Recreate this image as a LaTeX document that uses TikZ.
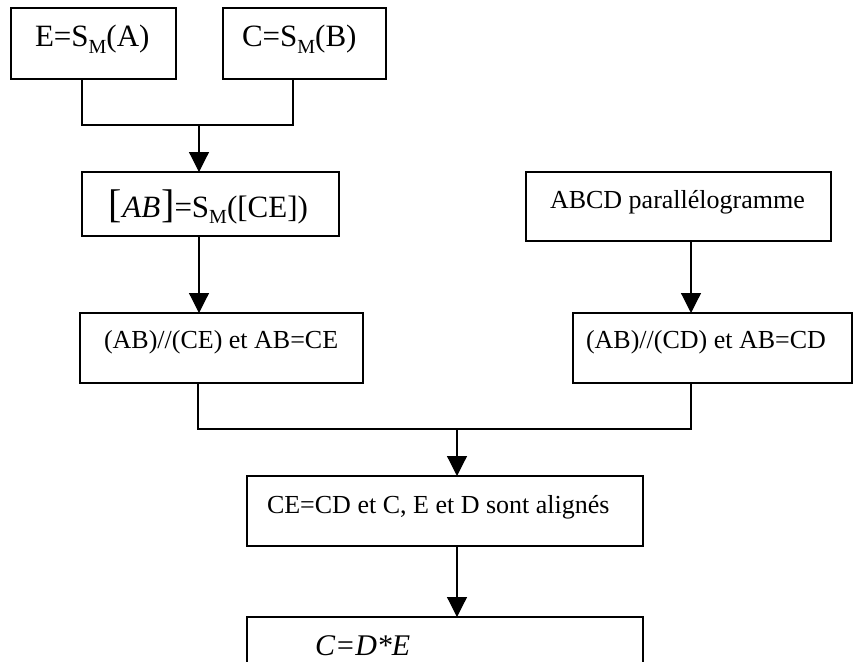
\documentclass[tikz,border=0pt]{standalone}
\usepackage{fontspec}
\setmainfont{Liberation Serif}
\usetikzlibrary{arrows.meta}
% lowered, smaller "M" used as a subscript
\newcommand{\subM}{\raisebox{-0.22em}{\fontsize{20}{20}\selectfont M}}
% tall square brackets around the italic segment name
\newcommand{\tallbr}[1]{{\fontsize{40}{40}\selectfont#1}}
\begin{document}
\begin{tikzpicture}[x=1pt,y=-1pt,
  line width=1.2pt,
  box/.style={draw, line width=1.2pt, inner sep=0pt, outer sep=0pt},
  txt/.style={anchor=base west, inner sep=0pt, outer sep=0pt},
  big/.style={font=\fontsize{31}{36}\selectfont},
  small/.style={font=\fontsize{26}{30}\selectfont},
  arr/.style={-{Triangle[width=20pt,length=20pt]}}]
\useasboundingbox (0,0) rectangle (853,661);
\clip (0,0) rectangle (853,661);

% frames
\node[box, minimum width=165pt, minimum height=71pt] (b1) at (93.5,43.5) {};
\node[box, minimum width=163pt, minimum height=71pt] (b2) at (304.5,43.5) {};
\node[box, minimum width=257pt, minimum height=64pt] (b3) at (210.5,204) {};
\node[box, minimum width=283pt, minimum height=70pt] (b4) at (221.5,348) {};
\node[box, minimum width=305pt, minimum height=69pt] (b5) at (678.5,206.5) {};
\node[box, minimum width=279pt, minimum height=70pt] (b6) at (712.5,348) {};
\node[box, minimum width=396pt, minimum height=70pt] (b7) at (445,511) {};
\node[box, minimum width=396pt, minimum height=70pt] (b8) at (445,652) {};

% texts
\node[txt, big] (t1) at (35,47) {E=S\subM(A)};
\node[txt, big] (t2) at (242,47) {C=S\subM(B)};
\node[txt, big] (t3) at (108,217)
  {\tallbr{[}\kern1pt\textit{AB}\kern1pt\tallbr{]}=S\subM([CE])};
\node[txt, small] (t5) at (550,208) {ABCD parallélogramme};
\node[txt, small] (t4) at (104,348) {(AB)//(CE) et AB=CE};
\node[txt, small] (t6) at (586,348) {(AB)//(CD) et AB=CD};
\node[txt, small] (t7) at (267,513) {CE=CD et C, E et D sont alignés};
\node[txt, font=\fontsize{30}{34}\selectfont\itshape] (t8) at (315,655) {C=D*E};

% junction points
\coordinate (m1) at (199,125);
\coordinate (m2) at (457,429);

% connectors
\draw ([xshift=-11.5pt]b1.south) |- (m1) -| ([xshift=-11.5pt]b2.south);
\draw[arr] (m1) -- (m1 |- b3.north);
\draw[arr] ([xshift=-11.5pt]b3.south) -- ([xshift=-11.5pt]b3.south |- b4.north);
\draw[arr] ([xshift=12.5pt]b5.south) -- ([xshift=12.5pt]b5.south |- b6.north);
\draw ([xshift=-23.5pt]b4.south) |- (m2) -| ([xshift=-21.5pt]b6.south);
\draw[arr] (m2) -- (m2 |- b7.north);
\draw[arr] ([xshift=12pt]b7.south) -- ([xshift=12pt]b7.south |- b8.north);
\end{tikzpicture}
\end{document}
